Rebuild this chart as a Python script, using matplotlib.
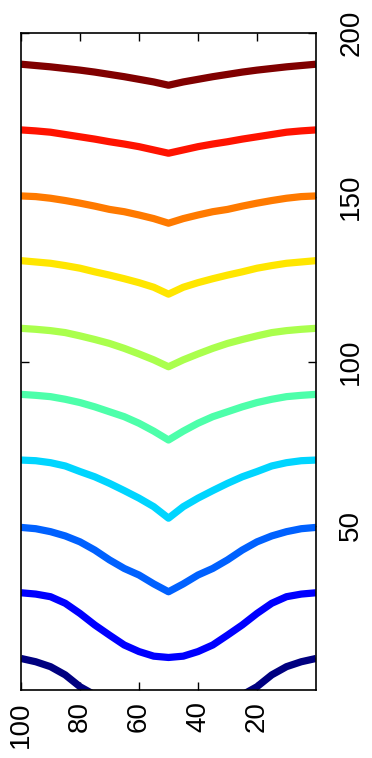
import matplotlib
matplotlib.use("Agg")
import matplotlib.pyplot as plt
import numpy as np

plt.rcParams["font.family"] = ["Liberation Sans", "DejaVu Sans"]

# positions across the profile (horizontal axis, drawn reversed)
pos = [0, 5, 10, 15, 20, 25, 30, 35, 40, 45, 50,
       55, 60, 65, 70, 75, 80, 85, 90, 95, 100]

# one curve per level (bottom to top)
c10 = [9.6, 8.6, 7.1, 4.6, 1.0, -1.5, -4.0, -6.0, -8.0, -9.0, -10.0,
       -9.0, -8.0, -6.0, -4.0, -1.5, 1.0, 4.6, 7.1, 8.6, 9.6]
c30 = [29.6, 29.2, 28.4, 26.4, 23.3, 19.8, 16.7, 13.7, 11.7, 10.3, 9.9,
       10.3, 11.7, 13.7, 16.7, 19.8, 23.3, 26.4, 28.4, 29.2, 29.6]
c50 = [49.5, 49.1, 48.2, 46.9, 45.1, 42.6, 39.6, 37.0, 35.0, 32.3, 29.9,
       32.3, 35.0, 37.0, 39.6, 42.6, 45.1, 46.9, 48.2, 49.1, 49.5]
c70 = [70.0, 69.8, 69.2, 68.2, 66.5, 64.9, 62.9, 60.7, 58.4, 55.8, 52.3,
       55.8, 58.4, 60.7, 62.9, 64.9, 66.5, 68.2, 69.2, 69.8, 70.0]
c90 = [90.0, 89.7, 89.3, 88.5, 87.5, 86.2, 84.7, 83.2, 81.2, 78.8, 76.1,
       78.8, 81.2, 83.2, 84.7, 86.2, 87.5, 88.5, 89.3, 89.7, 90.0]
c110 = [110.1, 109.8, 109.4, 108.8, 107.8, 106.7, 105.5, 104.0, 102.3, 100.5, 98.4,
        100.5, 102.3, 104.0, 105.5, 106.7, 107.8, 108.8, 109.4, 109.8, 110.1]
c130 = [130.7, 130.3, 129.9, 129.2, 128.4, 127.3, 126.3, 125.2, 124.0, 122.6, 120.5,
        122.6, 124.0, 125.2, 126.3, 127.3, 128.4, 129.2, 129.9, 130.3, 130.7]
c150 = [150.4, 150.2, 149.7, 149.0, 148.2, 147.3, 146.3, 145.6, 144.6, 143.5, 142.1,
        143.5, 144.6, 145.6, 146.3, 147.3, 148.2, 149.0, 149.7, 150.2, 150.4]
c170 = [170.5, 170.2, 169.8, 169.1, 168.4, 167.7, 166.9, 166.2, 165.4, 164.4, 163.4,
        164.4, 165.4, 166.2, 166.9, 167.7, 168.4, 169.1, 169.8, 170.2, 170.5]
c190 = [190.5, 190.1, 189.7, 189.2, 188.7, 188.1, 187.4, 186.7, 185.9, 185.1, 184.1,
        185.1, 185.9, 186.7, 187.4, 188.1, 188.7, 189.2, 189.7, 190.1, 190.5]

curves = [c10, c30, c50, c70, c90, c110, c130, c150, c170, c190]
colors = plt.cm.jet(np.linspace(0, 1, len(curves)))

fig = plt.figure(figsize=(3.72, 7.58), dpi=100)
ax = fig.add_axes([21 / 372, 68 / 758, 295 / 372, 657 / 758])

for c, col in zip(curves, colors):
    ax.plot(pos, c, color=col, lw=5.2, solid_capstyle="butt", solid_joinstyle="round")

ax.set_xlim(100, 0)
ax.set_ylim(0, 200)
ax.set_xticks([20, 40, 60, 80, 100])
ax.set_yticks([50, 100, 150, 200])

ax.tick_params(axis="both", direction="in", length=6, width=1, labelsize=20,
               top=True, bottom=True, left=True, right=True)
ax.tick_params(axis="x", labelrotation=90, pad=8)
ax.tick_params(axis="y", labelleft=False, labelright=True, labelrotation=90, pad=16)
for lab in ax.get_yticklabels():
    lab.set_verticalalignment("center")
for lab in ax.get_xticklabels():
    lab.set_verticalalignment("top")

for s in ax.spines.values():
    s.set_linewidth(1.2)

fig.savefig("out.png", dpi=100)
